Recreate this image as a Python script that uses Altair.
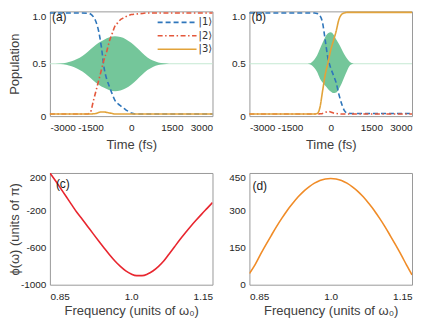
import altair as alt
import pandas as pd

# ---------------- data ----------------
states = ["|1⟩", "|2⟩", "|3⟩"]

time_a = [-3000, -2000, -1600, -1500, -1400, -1300, -1200, -1100, -1000, -900, -800, -700,
          -600, -500, -400, -300, -200, -100, 0, 200, 400, 600, 1000, 2000, 3000]
pop1_a = [0.985, 0.985, 0.982, 0.975, 0.95, 0.90, 0.81, 0.66, 0.46, 0.35, 0.28, 0.21,
          0.15, 0.12, 0.10, 0.08, 0.06, 0.045, 0.03, 0.02, 0.02, 0.02, 0.02, 0.02, 0.02]
pop2_a = [0.02, 0.02, 0.02, 0.04, 0.14, 0.24, 0.34, 0.44, 0.54, 0.62, 0.72, 0.79,
          0.86, 0.89, 0.92, 0.935, 0.95, 0.96, 0.97, 0.975, 0.98, 0.985, 0.985, 0.985, 0.985]
pop3_a = [0.02, 0.02, 0.02, 0.02, 0.022, 0.025, 0.035, 0.04, 0.04, 0.035, 0.03, 0.025,
          0.02, 0.02, 0.02, 0.02, 0.02, 0.02, 0.02, 0.02, 0.02, 0.02, 0.02, 0.02, 0.02]

time_b = [-3000, -1000, -600, -500, -400, -300, -200, -100, 0, 100, 200, 300, 400, 500,
          600, 800, 1000, 3000]
pop1_b = [0.985, 0.985, 0.985, 0.98, 0.96, 0.89, 0.72, 0.55, 0.46, 0.39, 0.32, 0.21, 0.12,
          0.055, 0.03, 0.025, 0.025, 0.025]
pop2_b = [0.02, 0.02, 0.02, 0.02, 0.022, 0.025, 0.035, 0.045, 0.04, 0.03, 0.025, 0.022,
          0.02, 0.02, 0.02, 0.02, 0.02, 0.02]
pop3_b = [0.02, 0.02, 0.02, 0.025, 0.08, 0.24, 0.40, 0.51, 0.63, 0.72, 0.81, 0.92, 0.97,
          0.985, 0.99, 0.99, 0.99, 0.99]

env_t_a = [-3000, -2600, -2400, -2200, -2000, -1800, -1600, -1400, -1200, -1000, -800, -600,
           -400, -200, 0, 200, 400, 600, 800, 1000, 1200, 1400, 3000]
env_up_a = [0.5, 0.503, 0.51, 0.525, 0.545, 0.575, 0.615, 0.66, 0.70, 0.73, 0.752, 0.762,
            0.755, 0.735, 0.70, 0.655, 0.605, 0.56, 0.53, 0.512, 0.504, 0.5, 0.5]
env_lo_a = [0.5, 0.497, 0.49, 0.475, 0.455, 0.425, 0.385, 0.34, 0.30, 0.27, 0.248, 0.238,
            0.245, 0.265, 0.30, 0.345, 0.395, 0.44, 0.47, 0.488, 0.496, 0.5, 0.5]

env_t_b = [-3000, -900, -800, -700, -600, -500, -400, -300, -200, -100, 0, 100, 200, 300,
           400, 500, 600, 700, 800, 900, 3000]
env_up_b = [0.5, 0.5, 0.502, 0.515, 0.54, 0.58, 0.64, 0.70, 0.755, 0.79, 0.80, 0.78, 0.735,
            0.69, 0.64, 0.59, 0.55, 0.52, 0.505, 0.5, 0.5]
env_lo_b = [0.5, 0.5, 0.498, 0.485, 0.46, 0.42, 0.36, 0.32, 0.29, 0.26, 0.235, 0.22, 0.225,
            0.26, 0.31, 0.37, 0.43, 0.48, 0.497, 0.5, 0.5]

freq = [0.85, 0.86, 0.87, 0.88, 0.89, 0.90, 0.91, 0.92, 0.93, 0.94, 0.95, 0.96, 0.97, 0.98,
        0.99, 1.00, 1.01, 1.02, 1.03, 1.04, 1.05, 1.06, 1.07, 1.08, 1.09, 1.10, 1.11, 1.12,
        1.13, 1.14, 1.15]
phase_c = [200, 119, 33, -53, -140, -225, -300, -377, -454, -530, -605, -678, -745, -803,
           -851, -885, -903, -903, -886, -853, -806, -746, -670, -592, -515, -442, -372,
           -306, -242, -180, -118]
phase_d = [45, 79, 120, 159, 197, 234, 268, 300, 328, 354, 376, 394, 409, 420, 426, 428,
           426, 420, 409, 394, 376, 354, 328, 300, 268, 234, 197, 159, 120, 79, 40]

time_ticks = [-3000, -1500, 0, 1500, 3000]
pop_ticks = [0, 0.5, 1.0]
freq_ticks = [0.85, 1.0, 1.15]
phase_c_ticks = [-1000, -600, -200, 200]
phase_d_ticks = [0, 150, 300, 450]

# ---------------- styling ----------------
FONT = "Liberation Sans"
state_colors = ["#2f76bb", "#e4573b", "#e2a33a"]
state_dashes = [[5, 3], [5, 2.5, 1.5, 2.5], [1, 0]]
FILL = "#74c69a"
W, H_TOP, H_BOT = 163, 105, 112

color_scale = alt.Scale(domain=states, range=state_colors)
dash_scale = alt.Scale(domain=states, range=state_dashes)


def long_df(t, p1, p2, p3):
    n = len(t)
    return pd.DataFrame({
        "t": t * 3,
        "p": p1 + p2 + p3,
        "state": [states[0]] * n + [states[1]] * n + [states[2]] * n,
    })


top_flush = {"condition": {"test": "datum.value == 1", "value": "top"}, "value": "middle"}


def pop_panel(t, p1, p2, p3, et, eu, el, tag, show_legend, ytitle):
    lines_df = long_df(t, p1, p2, p3)
    env_df = pd.DataFrame({"t": et, "up": eu, "lo": el})
    xax = alt.Axis(values=time_ticks, title="Time (fs)", labelFlush=True,
                   labelExpr="'' + datum.value", labelPadding=6, titlePadding=6)
    yax = alt.Axis(values=pop_ticks, title=ytitle, labelPadding=4,
                   labelExpr="datum.value == 0 ? '0' : format(datum.value, '.1f')",
                   labelBaseline=top_flush, minExtent=28, maxExtent=28, titlePadding=0)
    xs = alt.Scale(domain=[-3000, 3000], nice=False, zero=False)
    ys = alt.Scale(domain=[0, 1], nice=False)
    area = alt.Chart(env_df).mark_area(color=FILL, opacity=1, interpolate="monotone").encode(
        x=alt.X("t:Q", scale=xs, axis=xax),
        y=alt.Y("up:Q", scale=ys, axis=yax),
        y2="lo:Q",
    )
    base = alt.Chart(pd.DataFrame({"level": [0.5]})).mark_rule(
        color="#c6e9d3", strokeWidth=1).encode(y="level:Q")
    lines = alt.Chart(lines_df).mark_line(strokeWidth=1.6, interpolate="monotone").encode(
        x="t:Q",
        y="p:Q",
        color=alt.Color("state:N", scale=color_scale, legend=None),
        strokeDash=alt.StrokeDash("state:N", scale=dash_scale, legend=None),
    )
    label = alt.Chart(pd.DataFrame({"label": [tag]})).mark_text(
        align="left", baseline="middle", font=FONT, fontSize=12, color="#1a1a1a"
    ).encode(x=alt.value(2), y=alt.value(6), text="label:N")
    layers = [base, area, lines, label]
    if show_legend:
        for i, s in enumerate(states):
            row = pd.DataFrame({"state": [s]})
            yy = 11 + 13.5 * i
            layers.append(
                alt.Chart(row).mark_rule(strokeWidth=1.6).encode(
                    x=alt.value(108), x2=alt.value(147), y=alt.value(yy),
                    color=alt.Color("state:N", scale=color_scale, legend=None),
                    strokeDash=alt.StrokeDash("state:N", scale=dash_scale, legend=None),
                )
            )
            layers.append(
                alt.Chart(row).mark_text(
                    align="left", baseline="middle", font="DejaVu Sans", fontSize=10,
                    color="#333333"
                ).encode(x=alt.value(149), y=alt.value(yy), text="state:N")
            )
    return alt.layer(*layers).properties(width=W, height=H_TOP)


def phase_panel(values, ticks, dom, color, tag, lx, ly, ytitle):
    df = pd.DataFrame({"f": freq, "v": values})
    xax = alt.Axis(values=freq_ticks, title="Frequency (units of ω₀)", labelFlush=True,
                   labelExpr="datum.value == 1 ? '1.0' : '' + datum.value",
                   labelPadding=7, titlePadding=3)
    yax = alt.Axis(values=ticks, title=ytitle, labelPadding=4,
                   labelExpr="'' + datum.value",
                   labelBaseline={"condition": {"test": "datum.value == %d" % dom[1], "value": "top"},
                                  "value": "middle"},
                   minExtent=28, maxExtent=28, titlePadding=0)
    line = alt.Chart(df).mark_line(color=color, strokeWidth=1.6, clip=True,
                                   interpolate="monotone").encode(
        x=alt.X("f:Q", scale=alt.Scale(domain=[0.85, 1.15], nice=False, zero=False), axis=xax),
        y=alt.Y("v:Q", scale=alt.Scale(domain=dom, nice=False, zero=False), axis=yax),
    )
    label = alt.Chart(pd.DataFrame({"label": [tag]})).mark_text(
        align="left", baseline="middle", font=FONT, fontSize=12, color="#1a1a1a"
    ).encode(x=alt.value(lx), y=alt.value(ly), text="label:N")
    return alt.layer(line, label).properties(width=W, height=H_BOT)


chart_a = pop_panel(time_a, pop1_a, pop2_a, pop3_a, env_t_a, env_up_a, env_lo_a, "(a)", True,
                    "Population")
chart_b = pop_panel(time_b, pop1_b, pop2_b, pop3_b, env_t_b, env_up_b, env_lo_b, "(b)", False,
                    None)
chart_c = phase_panel(phase_c, phase_c_ticks, [-1000, 200], "#e8262f", "(c)", 6, 11,
                      "ϕ(ω) (units of π)")
chart_d = phase_panel(phase_d, phase_d_ticks, [0, 450], "#f08c28", "(d)", 3, 13, None)

chart = alt.concat(
    chart_a, chart_b, chart_c, chart_d, columns=2,
    spacing={"row": 57, "column": 37}, bounds="flush"
).resolve_scale(
    color="independent", strokeDash="independent"
).properties(
    padding=0, background="white"
).configure_view(
    stroke="#9a9a9a", strokeWidth=1
).configure_axis(
    grid=False, domain=False, ticks=False, tickSize=0,
    labelFont=FONT, labelFontSize=10, labelColor="#262626",
    titleFont=FONT, titleFontSize=13, titleColor="#404040", titleFontWeight="normal",
)

chart.save("out.html", embed_options={"renderer": "svg", "actions": False})
